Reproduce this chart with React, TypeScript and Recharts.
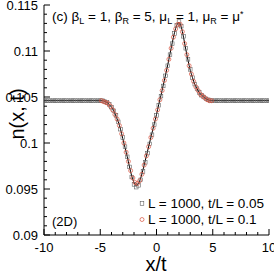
import { ComposedChart, XAxis, YAxis, Line, Scatter } from "recharts";

const FONT = "'Liberation Sans', Arial, Helvetica, sans-serif";

// x/t grid for L = 1000, t/L = 0.05 (also used for the solid curve)
const xCoarse = [
  -10, -9.8, -9.6, -9.4, -9.2, -9, -8.8, -8.6, -8.4, -8.2, -8, -7.8, -7.6, -7.4, -7.2, -7, -6.8, -6.6, -6.4, -6.2,
  -6, -5.8, -5.6, -5.4, -5.2, -5, -4.8, -4.6, -4.4, -4.2, -4, -3.8, -3.6, -3.4, -3.2, -3, -2.8, -2.6, -2.4, -2.2,
  -2, -1.8, -1.6, -1.4, -1.2, -1, -0.8, -0.6, -0.4, -0.2, 0, 0.2, 0.4, 0.6, 0.8, 1, 1.2, 1.4, 1.6, 1.8,
  2, 2.2, 2.4, 2.6, 2.8, 3, 3.2, 3.4, 3.6, 3.8, 4, 4.2, 4.4, 4.6, 4.8, 5, 5.2, 5.4, 5.6, 5.8,
  6, 6.2, 6.4, 6.6, 6.8, 7, 7.2, 7.4, 7.6, 7.8, 8, 8.2, 8.4, 8.6, 8.8, 9, 9.2, 9.4, 9.6, 9.8, 10,
];

// solid curve
const nLine = [
  0.1046, 0.1046, 0.1046, 0.1046, 0.1046, 0.1046, 0.1046, 0.1046, 0.1046, 0.1046, 0.1046, 0.1046, 0.1046, 0.1046, 0.1046, 0.1046, 0.1046, 0.1046, 0.1046, 0.1046,
  0.1046, 0.1046, 0.1046, 0.1046, 0.1046, 0.1046, 0.1046, 0.1045, 0.1044, 0.1042, 0.1039, 0.1035, 0.1029, 0.1023, 0.1015, 0.1005, 0.0995, 0.0985, 0.0974, 0.0964,
  0.0957, 0.0954, 0.0956, 0.0962, 0.0971, 0.0981, 0.0991, 0.1001, 0.1011, 0.1021, 0.1031, 0.1042, 0.1052, 0.1063, 0.1074, 0.1085, 0.1097, 0.1109, 0.112, 0.1128,
  0.1131, 0.1126, 0.1115, 0.1102, 0.109, 0.1079, 0.1071, 0.1064, 0.1059, 0.1055, 0.1052, 0.105, 0.1048, 0.1047, 0.1046, 0.1046, 0.1046, 0.1046, 0.1046, 0.1046,
  0.1046, 0.1046, 0.1046, 0.1046, 0.1046, 0.1046, 0.1046, 0.1046, 0.1046, 0.1046, 0.1046, 0.1046, 0.1046, 0.1046, 0.1046, 0.1046, 0.1046, 0.1046, 0.1046, 0.1046, 0.1046,
];

// squares: L = 1000, t/L = 0.05
const nT005 = [
  0.1046, 0.1046, 0.1046, 0.1046, 0.1046, 0.1046, 0.1046, 0.1046, 0.1046, 0.1046, 0.1046, 0.1046, 0.1046, 0.1046, 0.1046, 0.1046, 0.1046, 0.1046, 0.1046, 0.1046,
  0.1046, 0.1046, 0.1046, 0.1046, 0.1046, 0.1046, 0.1046, 0.1045, 0.1044, 0.1042, 0.1039, 0.1035, 0.103, 0.1023, 0.1015, 0.1006, 0.0996, 0.0985, 0.0974, 0.0963,
  0.0955, 0.0952, 0.0954, 0.096, 0.0969, 0.0979, 0.0989, 0.0999, 0.1009, 0.102, 0.103, 0.1041, 0.1051, 0.1062, 0.1073, 0.1084, 0.1096, 0.1108, 0.1119, 0.1128,
  0.1132, 0.1127, 0.1116, 0.1103, 0.1091, 0.108, 0.1071, 0.1064, 0.1059, 0.1055, 0.1052, 0.105, 0.1048, 0.1047, 0.1046, 0.1046, 0.1046, 0.1046, 0.1046, 0.1046,
  0.1046, 0.1046, 0.1046, 0.1046, 0.1046, 0.1046, 0.1046, 0.1046, 0.1046, 0.1046, 0.1046, 0.1046, 0.1046, 0.1046, 0.1046, 0.1046, 0.1046, 0.1046, 0.1046, 0.1046, 0.1046,
];

// circles: L = 1000, t/L = 0.1 (only reaches |x/t| < 5)
const xT01 = [
  -4.9, -4.7, -4.5, -4.3, -4.1, -3.9, -3.7, -3.5, -3.3, -3.1, -2.9, -2.7, -2.5, -2.3, -2.1, -1.9, -1.7, -1.5, -1.3, -1.1, -0.9, -0.7, -0.5, -0.3, -0.1,
  0.1, 0.3, 0.5, 0.7, 0.9, 1.1, 1.3, 1.5, 1.7, 1.9, 2.1, 2.3, 2.5, 2.7, 2.9, 3.1, 3.3, 3.5, 3.7, 3.9, 4.1, 4.3, 4.5, 4.7, 4.9,
];
const nT01 = [
  0.1046, 0.1045, 0.1044, 0.1043, 0.104, 0.1036, 0.1031, 0.1026, 0.1019, 0.101, 0.1, 0.099, 0.098, 0.097, 0.0962, 0.0957, 0.0956, 0.0959, 0.0966, 0.0976, 0.0986, 0.0996, 0.1006, 0.1016, 0.1026,
  0.1036, 0.1047, 0.1057, 0.1068, 0.1079, 0.1091, 0.1103, 0.1115, 0.1124, 0.1129, 0.1129, 0.1121, 0.1108, 0.1096, 0.1084, 0.1075, 0.1067, 0.1061, 0.1057, 0.1053, 0.1051, 0.1049, 0.1047, 0.1046, 0.1046,
];

const xTicks = [-10, -9, -8, -7, -6, -5, -4, -3, -2, -1, 0, 1, 2, 3, 4, 5, 6, 7, 8, 9, 10];
const yTicks = [
  0.09, 0.091, 0.092, 0.093, 0.094, 0.095, 0.096, 0.097, 0.098, 0.099, 0.1, 0.101, 0.102,
  0.103, 0.104, 0.105, 0.106, 0.107, 0.108, 0.109, 0.11, 0.111, 0.112, 0.113, 0.114, 0.115,
];

const lineData = xCoarse.map((x, i) => ({ x, n: nLine[i] }));
const sqData = xCoarse.map((x, i) => ({ x, n: nT005[i] }));
const circData = xT01.map((x, i) => ({ x, n: nT01[i] }));

const RED = "#d9503c";
const GREY = "#555";

function XTick(props: any) {
  const { x, y, payload } = props;
  const v = payload.value;
  const major = v % 5 === 0;
  return (
    <g>
      <line x1={x} x2={x} y1={y} y2={y - (major ? 6 : 3)} stroke="#000" strokeWidth={1} />
      {major && (
        <text x={x} y={y + 17} textAnchor="middle" fontSize={13} fontFamily={FONT} fill="#000">
          {v}
        </text>
      )}
    </g>
  );
}

function YTick(props: any) {
  const { x, y, payload } = props;
  const v = payload.value;
  const major = Math.round(v * 1000) % 5 === 0;
  return (
    <g>
      <line x1={x} x2={x + (major ? 6 : 3)} y1={y} y2={y} stroke="#000" strokeWidth={1} />
      {major && (
        <text x={x - 6} y={y + 4.5} textAnchor="end" fontSize={13} fontFamily={FONT} fill="#000">
          {String(Number(v.toFixed(3)))}
        </text>
      )}
    </g>
  );
}

const Square = (p: any) => (
  <rect x={p.cx - 1.8} y={p.cy - 1.8} width={3.6} height={3.6} fill="none" stroke={GREY} strokeWidth={0.55} />
);
const Circ = (p: any) => <circle cx={p.cx} cy={p.cy} r={2} fill="none" stroke={RED} strokeWidth={0.7} />;

export default function App() {
  return (
    <div style={{ position: "absolute", left: 0, top: 0, width: 274, height: 274, background: "#fff" }}>
      <ComposedChart width={274} height={274} margin={{ top: 5, right: 5, bottom: 0, left: 0 }}>
        <XAxis
          xAxisId="b"
          type="number"
          dataKey="x"
          domain={[-10, 10]}
          ticks={xTicks}
          interval={0}
          height={39}
          tickSize={0}
          tickMargin={0}
          tickLine={false}
          tick={<XTick />}
          axisLine={{ stroke: "#000" }}
          allowDataOverflow
        />
        <XAxis
          xAxisId="t"
          orientation="top"
          type="number"
          dataKey="x"
          domain={[-10, 10]}
          height={0}
          tick={false}
          tickLine={false}
          axisLine={{ stroke: "#000" }}
        />
        <YAxis
          yAxisId="l"
          type="number"
          domain={[0.09, 0.115]}
          ticks={yTicks}
          interval={0}
          width={44}
          tickSize={0}
          tickMargin={0}
          tickLine={false}
          tick={<YTick />}
          axisLine={{ stroke: "#000" }}
          allowDataOverflow
        />
        <YAxis
          yAxisId="r"
          orientation="right"
          type="number"
          domain={[0.09, 0.115]}
          width={0}
          tick={false}
          tickLine={false}
          axisLine={{ stroke: "#000" }}
        />
        <Scatter xAxisId="b" yAxisId="l" data={sqData} dataKey="n" shape={Square} isAnimationActive={false} />
        <Scatter xAxisId="b" yAxisId="l" data={circData} dataKey="n" shape={Circ} isAnimationActive={false} />
        <Line
          xAxisId="b"
          yAxisId="l"
          data={lineData}
          dataKey="n"
          type="monotone"
          dot={false}
          stroke="#000"
          strokeWidth={1}
          isAnimationActive={false}
        />
      </ComposedChart>
      <svg
        width={274}
        height={274}
        style={{ position: "absolute", left: 0, top: 0, pointerEvents: "none" }}
        fontFamily={FONT}
      >
        <text x={52} y={21} fontSize={13.5} fill="#000">
          (c) β<tspan dy={3} fontSize={9}>L</tspan>
          <tspan dy={-3}> = 1, β</tspan>
          <tspan dy={3} fontSize={9}>R</tspan>
          <tspan dy={-3}> = 5, μ</tspan>
          <tspan dy={3} fontSize={9}>L</tspan>
          <tspan dy={-3}> = 1, μ</tspan>
          <tspan dy={3} fontSize={9}>R</tspan>
          <tspan dy={-3}> = μ</tspan>
          <tspan dy={-4} fontSize={9}>*</tspan>
        </text>
        <rect x={140.2} y={201.7} width={3.6} height={3.6} fill="none" stroke={GREY} strokeWidth={0.55} />
        <text x={148} y={208} fontSize={13.5} fill="#000">L = 1000, t/L = 0.05</text>
        <circle cx={142} cy={219.5} r={2} fill="none" stroke={RED} strokeWidth={0.7} />
        <text x={148} y={224} fontSize={13.5} fill="#000">L = 1000, t/L = 0.1</text>
        <text x={52} y={226} fontSize={13} fill="#000">(2D)</text>
        <text x={156} y={271} fontSize={20} textAnchor="middle" fill="#000">x/t</text>
        <text transform="translate(24,114) rotate(-90)" fontSize={20} textAnchor="middle" fill="#000">
          n(x, t)
        </text>
      </svg>
    </div>
  );
}
